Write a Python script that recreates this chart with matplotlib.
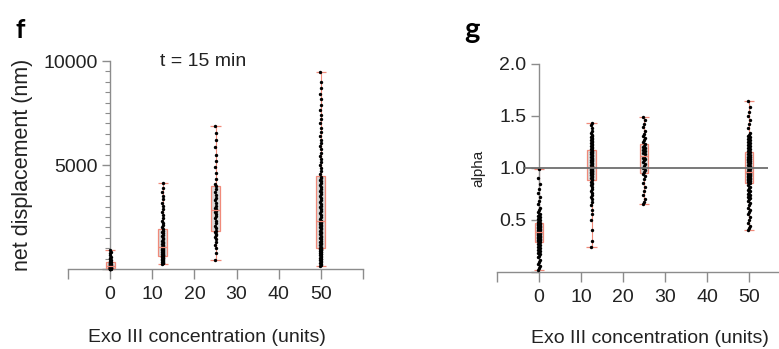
import numpy as np
import matplotlib
matplotlib.use("Agg")
import matplotlib.pyplot as plt

plt.rcParams['font.family'] = ['Liberation Sans', 'DejaVu Sans']

# Exo III concentration groups (units)
conc = [0, 12.5, 25, 50]
tick_vals = [-10, 0, 10, 20, 30, 40, 50, 60]
tick_labels = ['', '0', '10', '20', '30', '40', '50', '']

# panel f: net displacement (nm) at t = 15 min
disp_0 = [0, 5, 10, 15, 20, 25, 30, 35, 40, 50, 60, 70, 80, 90, 100, 110, 120, 130, 140, 150,
          160, 175, 190, 205, 220, 240, 260, 280, 300, 330, 360, 400, 440, 490, 540, 600, 670, 750, 830, 910]
disp_12 = [240, 270, 300, 330, 360, 390, 420, 450, 480, 500, 520, 545, 570, 590, 610,
           625, 650, 680, 710, 740, 770, 800, 830, 860, 890, 920, 950, 980, 1010, 1040,
           1060, 1100, 1150, 1200, 1250, 1310, 1370, 1430, 1500, 1570, 1640, 1710, 1780, 1850, 1920,
           2000, 2100, 2200, 2320, 2450, 2580, 2720, 2870, 3020, 3180, 3350, 3520, 3700, 3900, 4135]
disp_25 = [430, 780, 1000, 1150, 1300, 1420, 1530, 1620, 1700, 1770,
           1850, 1950, 2080, 2200, 2320, 2450, 2560, 2660, 2760, 2800,
           2870, 2950, 3050, 3180, 3300, 3420, 3550, 3700, 3840, 3980,
           4100, 4350, 4600, 4900, 5200, 5500, 5850, 6200, 6550, 6875]
disp_50 = [145, 200, 250, 300, 340, 380, 420, 460, 500, 540, 580, 620, 660, 700, 740, 780, 810, 840,
           870, 900, 920, 940, 960, 980, 1000,
           1030, 1080, 1130, 1190, 1250, 1310, 1370, 1430, 1490, 1550, 1610, 1670, 1730, 1790, 1850,
           1900, 1950, 2000, 2050, 2100, 2150, 2200, 2240, 2270, 2300,
           2330, 2420, 2510, 2600, 2690, 2780, 2870, 2960, 3050, 3140, 3230, 3320, 3410, 3500, 3590,
           3680, 3770, 3860, 3950, 4040, 4130, 4220, 4300, 4360, 4420,
           4550, 4700, 4850, 5000, 5150, 5300, 5450, 5600, 5750, 5900, 6050, 6200, 6400, 6600, 6800,
           7000, 7200, 7400, 7650, 7900, 8150, 8400, 8700, 9000, 9470]

# panel g: alpha
alpha_0 = [0.02, 0.04, 0.06, 0.08, 0.10, 0.12, 0.14, 0.15, 0.17, 0.18, 0.19, 0.20, 0.21, 0.22, 0.23,
           0.24, 0.25, 0.26, 0.27, 0.28,
           0.29, 0.295, 0.30, 0.305, 0.31, 0.315, 0.32, 0.325, 0.33, 0.335, 0.34, 0.345, 0.35, 0.355,
           0.36, 0.365, 0.37, 0.372, 0.375, 0.378,
           0.382, 0.385, 0.39, 0.395, 0.40, 0.405, 0.41, 0.415, 0.42, 0.425, 0.43, 0.435, 0.44, 0.445,
           0.45, 0.455, 0.46, 0.463, 0.466, 0.47,
           0.48, 0.49, 0.50, 0.51, 0.52, 0.53, 0.54, 0.55, 0.56, 0.58, 0.60, 0.62, 0.65, 0.68, 0.72,
           0.76, 0.80, 0.85, 0.90, 0.99]
alpha_12 = [0.24, 0.30, 0.40, 0.50, 0.56, 0.60, 0.64, 0.67, 0.70, 0.72, 0.74, 0.76, 0.78, 0.80, 0.82,
            0.84, 0.85, 0.86, 0.87, 0.88,
            0.89, 0.90, 0.91, 0.92, 0.93, 0.94, 0.945, 0.95, 0.955, 0.96, 0.965, 0.97, 0.975, 0.98,
            0.985, 0.99, 0.995, 1.00, 1.005, 1.01,
            1.015, 1.02, 1.03, 1.04, 1.05, 1.06, 1.07, 1.075, 1.08, 1.09, 1.10, 1.11, 1.12, 1.125,
            1.13, 1.14, 1.15, 1.155, 1.16, 1.17,
            1.18, 1.19, 1.20, 1.21, 1.22, 1.23, 1.24, 1.25, 1.26, 1.27, 1.28, 1.29, 1.30, 1.31, 1.32,
            1.34, 1.36, 1.38, 1.41, 1.43]
alpha_25 = [0.65, 0.67, 0.70, 0.74, 0.78, 0.82, 0.86, 0.89, 0.92, 0.94,
            0.96, 0.98, 1.00, 1.02, 1.04, 1.06, 1.08, 1.09, 1.10, 1.11,
            1.13, 1.14, 1.15, 1.16, 1.17, 1.18, 1.19, 1.20, 1.21, 1.23,
            1.25, 1.27, 1.29, 1.31, 1.33, 1.36, 1.39, 1.42, 1.46, 1.49]
alpha_50 = [0.40, 0.42, 0.44, 0.47, 0.50, 0.53, 0.56, 0.58, 0.60, 0.62, 0.64, 0.66, 0.68, 0.70, 0.71,
            0.72, 0.73, 0.74, 0.75, 0.77, 0.78, 0.79, 0.81, 0.82, 0.84,
            0.855, 0.86, 0.865, 0.87, 0.875, 0.88, 0.885, 0.89, 0.895, 0.90, 0.905, 0.91, 0.915, 0.92,
            0.925, 0.93, 0.935, 0.94, 0.942, 0.945, 0.948, 0.95, 0.953, 0.956, 0.958,
            0.962, 0.97, 0.98, 0.99, 1.00, 1.01, 1.02, 1.03, 1.04, 1.05, 1.06, 1.065, 1.07, 1.075,
            1.08, 1.085, 1.09, 1.10, 1.105, 1.11, 1.12, 1.125, 1.13, 1.14, 1.15,
            1.16, 1.17, 1.18, 1.19, 1.20, 1.21, 1.22, 1.23, 1.24, 1.25, 1.26, 1.27, 1.28, 1.29, 1.30,
            1.31, 1.32, 1.34, 1.38, 1.42, 1.46, 1.50, 1.54, 1.59, 1.64]

SPINE = '#8c8c8c'
RED = '#f08a7a'
BOX = '#dadada'


def draw_groups(ax, groups):
    for x, vals in zip(conc, groups):
        vals = np.array(vals, dtype=float)
        q1, med, q3 = np.percentile(vals, [25, 50, 75])
        lo, hi = vals.min(), vals.max()
        ax.vlines(x, lo, hi, color=RED, lw=0.8, zorder=2, clip_on=False)
        ax.hlines([lo, hi], x - 1.2, x + 1.2, color=RED, lw=0.9, zorder=2, clip_on=False)
        ax.bar(x, q3 - q1, bottom=q1, width=2.1, color=BOX, edgecolor=RED, lw=0.9, zorder=3)
        jit = (np.arange(len(vals)) % 3 - 1) * 0.15
        ax.scatter(x + jit, vals, s=6, color='black', lw=0, zorder=4, clip_on=False)
        ax.hlines(med, x - 1.05, x + 1.05, color=RED, lw=0.9, zorder=5)


def style_axes(ax):
    for s in ['top', 'right']:
        ax.spines[s].set_visible(False)
    ax.spines['left'].set_position(('data', 0))
    ax.spines['left'].set_color(SPINE)
    ax.spines['bottom'].set_color(SPINE)
    ax.spines['left'].set_linewidth(1.0)
    ax.spines['bottom'].set_linewidth(1.0)
    ax.set_xlim(-10, 60)
    ax.set_xticks(tick_vals)
    ax.set_xticklabels(tick_labels)
    ax.tick_params(axis='x', length=7, width=1, color=SPINE, labelsize=14, labelcolor='#222222', pad=5)
    ax.tick_params(axis='y', which='major', length=6, width=1, color=SPINE, labelsize=14,
                   labelcolor='#222222', pad=3)
    ax.tick_params(axis='y', which='minor', length=3.5, width=0.8, color=SPINE)


fig = plt.figure(figsize=(7.79, 3.49), dpi=100)

# panel f
ax1 = fig.add_axes([68 / 779, 1 - 269 / 349, 295 / 779, 208 / 349])
style_axes(ax1)
ax1.set_ylim(0, 10000)
ax1.set_yticks([0, 5000, 10000])
ax1.set_yticklabels(['', '5000', '10000'])
ax1.set_yticks(np.arange(0, 10001, 500), minor=True)
draw_groups(ax1, [disp_0, disp_12, disp_25, disp_50])
ax1.set_ylabel('net displacement (nm)', fontsize=15.5, color='#222222')
ax1.yaxis.set_label_coords(-0.118, 0.5)
ax1.set_xlabel('Exo III concentration (units)', fontsize=14, color='#222222')
ax1.xaxis.set_label_coords(0.47, -0.29)
ax1.text(22, 10000, 't = 15 min', fontsize=14, color='#222222', ha='center', va='center')

# panel g
ax2 = fig.add_axes([497 / 779, 1 - 272 / 349, 294 / 779, 208 / 349])
style_axes(ax2)
ax2.set_ylim(0, 2.0)
ax2.set_yticks([0, 0.5, 1.0, 1.5, 2.0])
ax2.set_yticklabels(['', '0.5', '1.0', '1.5', '2.0'])
ax2.hlines(1.0, -3.8, 54.5, color='#6e6e6e', lw=1.3, zorder=6)
draw_groups(ax2, [alpha_0, alpha_12, alpha_25, alpha_50])
ax2.set_ylabel('alpha', fontsize=11, color='#222222')
ax2.yaxis.set_label_coords(-0.04, 0.5)
ax2.set_xlabel('Exo III concentration (units)', fontsize=14, color='#222222')
ax2.xaxis.set_label_coords(0.52, -0.28)

fig.text(20 / 779, 1 - 38 / 349, 'f', fontsize=19, fontweight='bold', family='Lato', ha='center', va='baseline')
fig.text(472 / 779, 1 - 38 / 349, 'g', fontsize=21, fontweight='bold', family='Lato', ha='center', va='baseline')

fig.savefig('out.png', dpi=100)
